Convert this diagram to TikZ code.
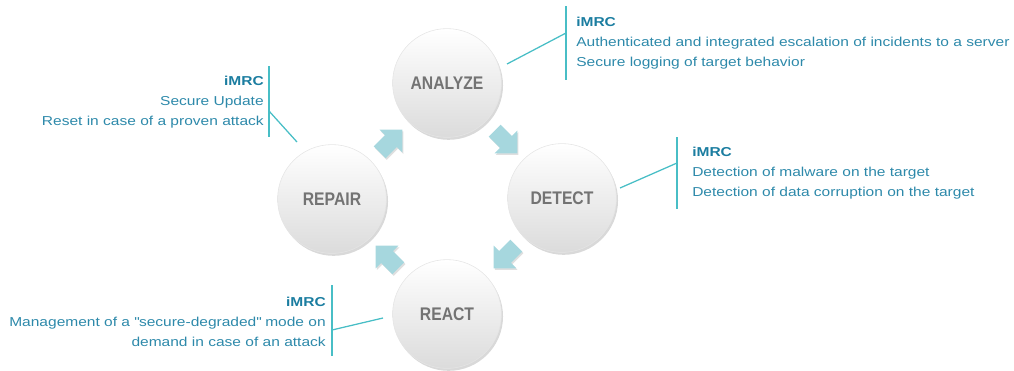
\documentclass[tikz,border=0pt]{standalone}
\usepackage{fontspec}
\setmainfont{Liberation Sans}
\newfontfamily\notefont[FakeStretch=1.2]{Liberation Sans}
\newfontfamily\phasefont[FakeStretch=0.86]{Liberation Sans}
\usetikzlibrary{shapes.arrows,shadows}
\definecolor{imrcblue}{HTML}{1B7DA0}
\definecolor{notetext}{HTML}{2D89AA}
\definecolor{bracketcol}{HTML}{48BEC6}
\definecolor{arrowfill}{HTML}{A6D7DE}
\definecolor{phasetext}{HTML}{737373}

\begin{document}
\begin{tikzpicture}
  [x=0.025cm, y=-0.025cm,
  phase/.style={circle, minimum size=2.72cm, draw=black!10, top color=white, bottom color=black!14,
    drop shadow={opacity=0.3, shadow xshift=0.04cm, shadow yshift=-0.06cm},
    font=\phasefont\fontsize{13}{15}\selectfont\bfseries, text=phasetext},
  turn/.style={single arrow, inner sep=0.2cm, minimum height=0.8cm, minimum width=0.8cm,
    single arrow head extend=0.19cm, draw=none, fill=arrowfill,
    drop shadow={opacity=0.25, shadow xshift=0.03cm, shadow yshift=-0.04cm}},
  bracket/.style={draw=bracketcol, line width=0.9pt},
  note/.style={font=\notefont\fontsize{9.2}{14}\selectfont, text=notetext, inner sep=0pt}]
  \clip (0,0) rectangle (1014,370);
  % phases
  \node [phase] (analyze) at (447,83) {ANALYZE};
  \node [phase] (detect) at (562,198) {DETECT};
  \node [phase] (repair) at (332,199) {REPAIR};
  \node [phase] (react) at (447,314) {REACT};
  % turning arrows
  \node [turn, rotate=-45] (toDetect) at (503,139) {};
  \node [turn, rotate=-135] (toReact) at (508,254) {};
  \node [turn, rotate=135] (toRepair) at (390,260) {};
  \node [turn, rotate=45] (toAnalyze) at (388,144) {};
  % notes
  \node [note, anchor=west, align=left] (analyzeNote) at (576,43)
    {\textbf{\color{imrcblue}iMRC}\\Authenticated and integrated escalation of incidents to a server\\Secure logging of target behavior};
  \node [note, anchor=west, align=left] (detectNote) at (692,173)
    {\textbf{\color{imrcblue}iMRC}\\Detection of malware on the target\\Detection of data corruption on the target};
  \node [note, anchor=east, align=right] (reactNote) at (326,322)
    {\textbf{\color{imrcblue}iMRC}\\Management of a \textquotedbl secure-degraded\textquotedbl{} mode on\\demand in case of an attack};
  \node [note, anchor=east, align=right] (repairNote) at (264,102)
    {\textbf{\color{imrcblue}iMRC}\\Secure Update\\Reset in case of a proven attack};
  % brackets
  \coordinate (analyzeTop) at (566,6);
  \coordinate (analyzeBot) at (566,80);
  \coordinate (analyzeJoin) at (566,33);
  \coordinate (analyzeFoot) at (507,64);
  \coordinate (detectTop) at (677,137);
  \coordinate (detectBot) at (677,209);
  \coordinate (detectJoin) at (677,163);
  \coordinate (detectFoot) at (620,188);
  \coordinate (reactTop) at (332,285);
  \coordinate (reactBot) at (332,356);
  \coordinate (reactJoin) at (332,330);
  \coordinate (reactFoot) at (383,318);
  \coordinate (repairTop) at (269,66);
  \coordinate (repairBot) at (269,137);
  \coordinate (repairJoin) at (269,111);
  \coordinate (repairFoot) at (297,142);
  % edges
  \path [bracket] (analyzeTop) -- (analyzeBot);
  \path [bracket] (analyzeFoot) -- (analyzeJoin);
  \path [bracket] (detectTop) -- (detectBot);
  \path [bracket] (detectFoot) -- (detectJoin);
  \path [bracket] (reactTop) -- (reactBot);
  \path [bracket] (reactFoot) -- (reactJoin);
  \path [bracket] (repairTop) -- (repairBot);
  \path [bracket] (repairFoot) -- (repairJoin);
\end{tikzpicture}
\end{document}
